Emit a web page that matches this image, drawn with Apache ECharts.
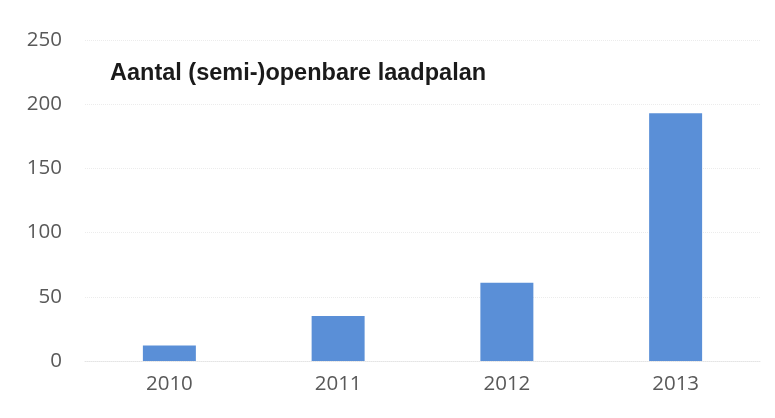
<!DOCTYPE html>
<html>
<head>
<meta charset="utf-8">
<script src="https://cdn.jsdelivr.net/npm/echarts@6/dist/echarts.min.js"></script>
<style>
  html, body { margin: 0; padding: 0; background: #fff; }
  #chart { width: 775px; height: 418px; }
</style>
</head>
<body>
<div id="chart"></div>
<script>
const years = ['2010', '2011', '2012', '2013']
const laadpalen = [12, 35, 61, 193]
const yTicks = { min: 0, max: 250, interval: 50 }

const chart = echarts.init(document.getElementById('chart'))
chart.setOption({
  animation: false,
  title: {
    text: 'Aantal (semi-)openbare laadpalan',
    left: 105,
    top: 57,
    textStyle: {
      fontFamily: 'Liberation Sans',
      fontWeight: 'bold',
      fontSize: 23.5,
      color: '#1a1a1a'
    }
  },
  grid: {
    left: 85,
    right: 15,
    top: 40,
    bottom: 57
  },
  xAxis: {
    type: 'category',
    data: years,
    axisTick: { show: false },
    axisLine: { lineStyle: { color: '#e4e4e4', type: 'dotted' } },
    axisLabel: {
      margin: 13,
      fontFamily: 'Open Sans',
      fontSize: 20.5,
      color: '#595959'
    }
  },
  yAxis: {
    type: 'value',
    min: yTicks.min,
    max: yTicks.max,
    interval: yTicks.interval,
    axisLine: { show: false },
    axisTick: { show: false },
    splitLine: { lineStyle: { color: '#ececec', type: 'dotted' } },
    axisLabel: {
      margin: 23,
      fontFamily: 'Open Sans',
      fontSize: 20.5,
      color: '#595959'
    }
  },
  series: [
    {
      type: 'bar',
      data: laadpalen,
      barWidth: '31.4%',
      itemStyle: { color: '#5a8fd7' }
    }
  ]
})
</script>
</body>
</html>
